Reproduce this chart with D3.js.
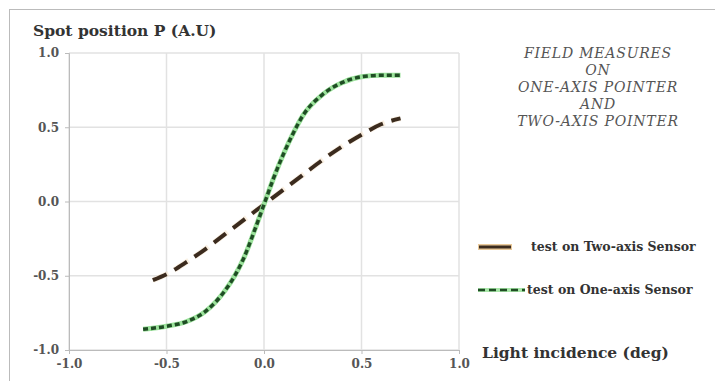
<!DOCTYPE html>
<html>
<head>
<meta charset="utf-8">
<script src="https://cdn.jsdelivr.net/npm/d3@7"></script>
<style>
  body { margin: 0; background: #fff; }
  svg { display: block; }
  .tick text { font-family: "DejaVu Serif", serif; font-weight: bold; font-size: 12px; fill: #555; }
</style>
</head>
<body>
<svg width="715" height="381"></svg>
<script>
// incidence angle (deg) vs spot position (A.U)
const twoAxisX = [-0.57, -0.5, -0.4, -0.3, -0.2, -0.1, 0, 0.1, 0.2, 0.3, 0.4, 0.5, 0.6, 0.7];
const twoAxisY = [-0.53, -0.49, -0.41, -0.32, -0.22, -0.12, -0.02, 0.08, 0.18, 0.28, 0.37, 0.45, 0.52, 0.56];
const oneAxisX = [-0.62, -0.5, -0.4, -0.3, -0.2, -0.15, -0.1, -0.05, 0, 0.05, 0.1, 0.15, 0.2, 0.3, 0.4, 0.5, 0.6, 0.7];
const oneAxisY = [-0.86, -0.84, -0.81, -0.74, -0.6, -0.5, -0.37, -0.2, -0.02, 0.16, 0.32, 0.46, 0.58, 0.72, 0.8, 0.84, 0.85, 0.85];
const xTicks = [-1.0, -0.5, 0.0, 0.5, 1.0];
const yTicks = [-1.0, -0.5, 0.0, 0.5, 1.0];
const noteLines = ["FIELD MEASURES", "ON", "ONE-AXIS POINTER", "AND", "TWO-AXIS POINTER"];
const legendLabels = ["test on Two-axis Sensor", "test on One-axis Sensor"];

const serif = '"DejaVu Serif", serif';
const svg = d3.select("svg");
const fmt = d => d3.format(".1f")(d).replace("\u2212", "-");

// outer frame
svg.append("rect").attr("x", 9.5).attr("y", 9.5).attr("width", 720).attr("height", 400)
  .attr("fill", "none").attr("stroke", "#bbb");

const x = d3.scaleLinear().domain([-1, 1]).range([69, 459]);
const y = d3.scaleLinear().domain([-1, 1]).range([350, 53]);

const g = svg.append("g");

// grid
g.selectAll(".gx").data(xTicks).enter().append("line")
  .attr("x1", d => x(d)).attr("x2", d => x(d)).attr("y1", y(1)).attr("y2", y(-1))
  .attr("stroke", "#e2e2e2").attr("stroke-width", 1.5);
g.selectAll(".gy").data(yTicks).enter().append("line")
  .attr("x1", x(-1)).attr("x2", x(1)).attr("y1", d => y(d)).attr("y2", d => y(d))
  .attr("stroke", "#e2e2e2").attr("stroke-width", 1.5);

g.append("g").attr("transform", "translate(0," + y(-1) + ")")
  .call(d3.axisBottom(x).tickValues(xTicks).tickFormat(fmt).tickSize(4).tickPadding(5))
  .call(a => a.select(".domain").attr("stroke", "#bbb"))
  .call(a => a.selectAll(".tick line").attr("stroke", "#bbb"));
g.append("g").attr("transform", "translate(" + x(-1) + ",0)")
  .call(d3.axisLeft(y).tickValues(yTicks).tickFormat(fmt).tickSize(4).tickPadding(6))
  .call(a => a.select(".domain").attr("stroke", "#bbb"))
  .call(a => a.selectAll(".tick line").attr("stroke", "#bbb"));

const line = d3.line().curve(d3.curveMonotoneX).x(d => x(d[0])).y(d => y(d[1]));
const twoAxis = twoAxisX.map((v, i) => [v, twoAxisY[i]]);
const oneAxis = oneAxisX.map((v, i) => [v, oneAxisY[i]]);

// light halos under the dashes
g.append("path").datum(twoAxis).attr("d", line).attr("fill", "none")
  .attr("stroke", "#f6e2c6").attr("stroke-width", 5.5).attr("stroke-dasharray", "17,7").attr("opacity", 0.5);
g.append("path").datum(twoAxis).attr("d", line).attr("fill", "none")
  .attr("stroke", "#3b2b1e").attr("stroke-width", 4).attr("stroke-dasharray", "15,9");
g.append("path").datum(oneAxis).attr("d", line).attr("fill", "none")
  .attr("stroke", "#9be29b").attr("stroke-width", 5);
g.append("path").datum(oneAxis).attr("d", line).attr("fill", "none")
  .attr("stroke", "#1f4d24").attr("stroke-width", 3.5).attr("stroke-dasharray", "5,3");

// titles
svg.append("text").attr("x", 33).attr("y", 36).text("Spot position  P (A.U)")
  .attr("font-family", serif).attr("font-weight", "bold").attr("font-size", 15.5).attr("fill", "#333");
svg.append("text").attr("x", 482).attr("y", 358).text("Light incidence (deg)")
  .attr("font-family", serif).attr("font-weight", "bold").attr("font-size", 15.5).attr("fill", "#333");

// note
svg.append("g").selectAll("text").data(noteLines).enter().append("text")
  .attr("x", 598).attr("y", (d, i) => 58 + i * 17).attr("text-anchor", "middle")
  .attr("font-family", serif).attr("font-style", "italic").attr("font-size", 14)
  .attr("letter-spacing", 0.8).attr("fill", "#555").text(d => d);

// legend
const leg = svg.append("g");
leg.append("line").attr("x1", 478).attr("x2", 512).attr("y1", 247).attr("y2", 247)
  .attr("stroke", "#e9c99a").attr("stroke-width", 6);
leg.append("line").attr("x1", 479).attr("x2", 511).attr("y1", 247).attr("y2", 247)
  .attr("stroke", "#3b2b1e").attr("stroke-width", 3);
leg.append("line").attr("x1", 478).attr("x2", 525).attr("y1", 290).attr("y2", 290)
  .attr("stroke", "#a8e6a8").attr("stroke-width", 4);
leg.append("line").attr("x1", 478).attr("x2", 525).attr("y1", 290).attr("y2", 290)
  .attr("stroke", "#1f4d24").attr("stroke-width", 2.5).attr("stroke-dasharray", "7,4");
leg.selectAll(".lt").data(legendLabels).enter().append("text")
  .attr("x", (d, i) => i === 0 ? 531 : 527).attr("y", (d, i) => 251 + i * 43)
  .attr("font-family", serif).attr("font-weight", "bold").attr("font-size", 12.5)
  .attr("fill", "#333").text(d => d);
</script>
</body>
</html>
